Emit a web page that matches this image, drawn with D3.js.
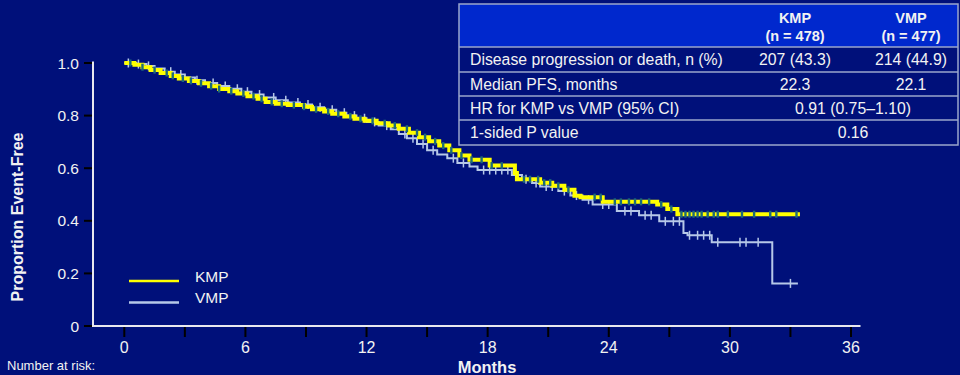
<!DOCTYPE html>
<html>
<head>
<meta charset="utf-8">
<script src="https://cdn.jsdelivr.net/npm/d3@7"></script>
<style>
  html, body { margin: 0; padding: 0; background: #00107a; }
  svg { display: block; }
  text { font-family: "Liberation Sans", Arial, sans-serif; fill: #f2f2f2; }
</style>
</head>
<body>
<svg id="chart" width="960" height="375"></svg>
<script>
// Kaplan–Meier progression-free survival, KMP vs VMP
const kmpTimes = [0, 0.5, 0.9, 1.3, 1.8, 2.3, 2.7, 3.2, 3.7, 4.2, 4.7, 5.2, 5.6, 6.1, 6.6, 7.0, 7.5, 8.1, 8.9, 9.3, 9.9, 10.3, 10.9, 11.4, 11.9, 12.5, 13.1, 13.6, 14.1, 14.6, 15.1, 15.6, 16.1, 16.6, 17.1, 18.1, 19.35, 19.45, 20.6, 21.2, 21.8, 22.3, 22.6, 23.7, 26.4, 26.9, 27.4, 33.47];
const kmpSurv  = [1.000, 0.993, 0.984, 0.973, 0.962, 0.951, 0.941, 0.932, 0.923, 0.912, 0.901, 0.893, 0.884, 0.874, 0.864, 0.852, 0.845, 0.840, 0.834, 0.824, 0.816, 0.807, 0.797, 0.788, 0.780, 0.771, 0.762, 0.750, 0.735, 0.718, 0.702, 0.686, 0.668, 0.648, 0.632, 0.610, 0.582, 0.558, 0.545, 0.533, 0.518, 0.495, 0.490, 0.472, 0.462, 0.445, 0.425, 0.425];
const kmpCensored = [0.3, 0.9, 1.5, 2.1, 2.4, 2.9, 3.3, 3.8, 4.3, 4.7, 5.3, 5.9, 6.4, 6.8, 7.3, 7.8, 8.4, 8.9, 9.5, 10.1, 10.6, 11.2, 11.7, 12.3, 12.9, 13.4, 14.0, 14.5, 14.9, 15.4, 15.8, 16.2, 16.7, 17.2, 17.7, 18.2, 18.7, 19.8, 20.1, 20.5, 20.8, 21.1, 21.5, 22.0, 23.3, 23.6, 24.3, 24.6, 25.0, 25.3, 25.6, 26.0, 26.6, 27.1, 27.6, 27.8, 28.0, 28.2, 28.4, 28.6, 28.9, 29.2, 29.4, 29.9, 30.6, 31.2, 32.0, 32.3, 33.3];

const vmpTimes = [0, 0.6, 1.1, 1.5, 2.0, 2.5, 3.0, 3.5, 4.0, 4.6, 5.2, 5.8, 6.3, 6.9, 7.5, 8.1, 8.7, 9.3, 9.9, 10.5, 11.0, 11.5, 12.0, 12.6, 13.2, 13.6, 14.0, 14.5, 15.0, 15.5, 16.0, 16.5, 17.1, 17.5, 19.2, 19.7, 20.2, 20.6, 21.5, 22.1, 22.7, 23.2, 24.4, 25.5, 26.5, 27.7, 27.9, 29.1, 32.1, 33.37];
const vmpSurv  = [1.000, 0.996, 0.989, 0.979, 0.967, 0.956, 0.945, 0.934, 0.924, 0.913, 0.902, 0.891, 0.880, 0.869, 0.858, 0.850, 0.842, 0.832, 0.822, 0.811, 0.800, 0.790, 0.776, 0.762, 0.748, 0.730, 0.714, 0.692, 0.668, 0.652, 0.638, 0.620, 0.606, 0.593, 0.574, 0.558, 0.544, 0.530, 0.513, 0.496, 0.480, 0.462, 0.437, 0.421, 0.398, 0.354, 0.345, 0.318, 0.162, 0.162];
const vmpCensored = [0.2, 0.7, 1.2, 2.3, 2.8, 3.6, 4.4, 5.0, 5.6, 6.1, 6.7, 7.4, 8.0, 8.6, 9.1, 9.7, 10.3, 10.9, 11.4, 11.9, 12.4, 13.0, 13.9, 14.3, 14.8, 15.3, 16.3, 16.8, 17.8, 18.1, 18.4, 18.7, 19.0, 19.9, 20.4, 20.9, 21.2, 21.8, 22.4, 23.0, 23.7, 24.0, 24.8, 25.1, 25.8, 26.1, 26.8, 27.2, 27.5, 28.0, 28.4, 28.7, 29.0, 29.4, 30.5, 30.8, 31.4, 33.0];

const xTicksMajor = [0, 6, 12, 18, 24, 30, 36];
const xTicksAll = [0, 3, 6, 9, 12, 15, 18, 21, 24, 27, 30, 33, 36];
const yTicks = [0, 0.2, 0.4, 0.6, 0.8, 1.0];

const tableHeader = [["KMP", "(n = 478)"], ["VMP", "(n = 477)"]];
const tableRows = [
  { label: "Disease progression or death, n (%)", values: ["207 (43.3)", "214 (44.9)"] },
  { label: "Median PFS, months", values: ["22.3", "22.1"] },
  { label: "HR for KMP vs VMP (95% CI)", values: ["0.91 (0.75\u20131.10)"] },
  { label: "1-sided P value", values: ["0.16"] }
];

const legendItems = [
  { name: "KMP", color: "#ffff00" },
  { name: "VMP", color: "#b6c8e8" }
];

const svg = d3.select("#chart");
svg.append("rect").attr("width", 960).attr("height", 375).attr("fill", "#00107a");

const x = d3.scaleLinear().domain([0, 36]).range([124.3, 851]);
const y = d3.scaleLinear().domain([0, 1]).range([326, 63]);

// axes frame
const axisX0 = 93, axisX1 = 860.5;
svg.append("line").attr("x1", axisX0).attr("x2", axisX0).attr("y1", 61.5).attr("y2", y(0))
  .attr("stroke", "#e8e8ee").attr("stroke-width", 2);
svg.append("line").attr("x1", axisX0 - 1).attr("x2", axisX1).attr("y1", y(0)).attr("y2", y(0))
  .attr("stroke", "#e8e8ee").attr("stroke-width", 2);

// x ticks
svg.append("g").selectAll("line").data(xTicksAll).join("line")
  .attr("x1", d => x(d)).attr("x2", d => x(d))
  .attr("y1", y(0) + 1).attr("y2", y(0) + 11)
  .attr("stroke", "#000").attr("stroke-width", 2);
svg.append("g").selectAll("text").data(xTicksMajor).join("text")
  .attr("x", d => x(d)).attr("y", 353)
  .attr("text-anchor", "middle").attr("font-size", 16)
  .text(d => d);

// y ticks
svg.append("g").selectAll("line").data(yTicks).join("line")
  .attr("x1", axisX0 - 9).attr("x2", axisX0 - 1)
  .attr("y1", d => y(d)).attr("y2", d => y(d))
  .attr("stroke", "#000").attr("stroke-width", 2);
svg.append("g").selectAll("text").data(yTicks).join("text")
  .attr("x", 79).attr("y", d => y(d) + 5.5)
  .attr("text-anchor", "end").attr("font-size", 15.5)
  .text(d => d === 0 ? "0" : d3.format(".1f")(d));

// axis titles
svg.append("text").attr("x", 487).attr("y", 373)
  .attr("text-anchor", "middle").attr("font-size", 16.5).attr("font-weight", "bold")
  .text("Months");
svg.append("text").attr("transform", "translate(23,217) rotate(-90)")
  .attr("text-anchor", "middle").attr("font-size", 16).attr("font-weight", "bold")
  .text("Proportion Event-Free");
svg.append("text").attr("x", 7).attr("y", 370).attr("font-size", 13)
  .text("Number at risk:");

// step curves
const stepLine = d3.line().x(d => x(d[0])).y(d => y(d[1])).curve(d3.curveStepAfter);
const kmpData = kmpTimes.map((t, i) => [t, kmpSurv[i]]);
const vmpData = vmpTimes.map((t, i) => [t, vmpSurv[i]]);

function survAt(times, surv, t) {
  const i = d3.bisectRight(times, t) - 1;
  return surv[Math.max(0, i)];
}

// VMP
svg.append("path").datum(vmpData).attr("d", stepLine)
  .attr("fill", "none").attr("stroke", "#b6c8e8").attr("stroke-width", 2);
svg.append("g").selectAll("line").data(vmpCensored).join("line")
  .attr("x1", d => x(d)).attr("x2", d => x(d))
  .attr("y1", d => y(survAt(vmpTimes, vmpSurv, d)) - 4.5)
  .attr("y2", d => y(survAt(vmpTimes, vmpSurv, d)) + 4.5)
  .attr("stroke", "#b6c8e8").attr("stroke-width", 1.5);

// KMP
svg.append("path").datum(kmpData).attr("d", stepLine)
  .attr("fill", "none").attr("stroke", "#ffff00").attr("stroke-width", 4);
svg.append("g").selectAll("rect").data(kmpCensored).join("rect")
  .attr("x", d => x(d) - 1.2).attr("width", 2.4)
  .attr("y", d => y(survAt(kmpTimes, kmpSurv, d)) - 3.5).attr("height", 7)
  .attr("fill", "#1d6a78");

// legend
const lg = svg.append("g");
legendItems.forEach((item, i) => {
  const ly = 281 + i * 21.5;
  lg.append("line").attr("x1", 129).attr("x2", 179).attr("y1", ly).attr("y2", ly)
    .attr("stroke", item.color).attr("stroke-width", 2.7);
  lg.append("text").attr("x", 195).attr("y", ly + 0.5).attr("font-size", 15.5).text(item.name);
});

// summary table
const tb = svg.append("g");
const tLeft = 459, tRight = 958, tTop = 4;
const rowLines = [47, 72, 96, 120, 145];
const col1 = 795, col2 = 911, colSpan = 853;
tb.append("rect").attr("x", tLeft).attr("y", tTop).attr("width", tRight - tLeft).attr("height", rowLines[0] - tTop)
  .attr("fill", "#0028cd");
tb.append("rect").attr("x", tLeft).attr("y", tTop).attr("width", tRight - tLeft).attr("height", rowLines[4] - tTop)
  .attr("fill", "none").attr("stroke", "#9aa6cc").attr("stroke-width", 1.5);
rowLines.slice(0, 4).forEach(ry => {
  tb.append("line").attr("x1", tLeft).attr("x2", tRight).attr("y1", ry).attr("y2", ry)
    .attr("stroke", "#9aa6cc").attr("stroke-width", 1.5);
});
tableHeader.forEach((h, i) => {
  const cx = i === 0 ? col1 : col2;
  tb.append("text").attr("x", cx).attr("y", 23).attr("text-anchor", "middle")
    .attr("font-size", 14.5).attr("font-weight", "bold").text(h[0]);
  tb.append("text").attr("x", cx).attr("y", 41).attr("text-anchor", "middle")
    .attr("font-size", 14.5).attr("font-weight", "bold").text(h[1]);
});
tableRows.forEach((r, i) => {
  const by = (rowLines[i] + rowLines[i + 1]) / 2 + 5.5;
  tb.append("text").attr("x", 470).attr("y", by).attr("font-size", 15.8).text(r.label);
  if (r.values.length === 2) {
    tb.append("text").attr("x", col1).attr("y", by).attr("text-anchor", "middle").attr("font-size", 15.8).text(r.values[0]);
    tb.append("text").attr("x", col2).attr("y", by).attr("text-anchor", "middle").attr("font-size", 15.8).text(r.values[1]);
  } else {
    tb.append("text").attr("x", colSpan).attr("y", by).attr("text-anchor", "middle").attr("font-size", 15.8).text(r.values[0]);
  }
});
</script>
</body>
</html>
